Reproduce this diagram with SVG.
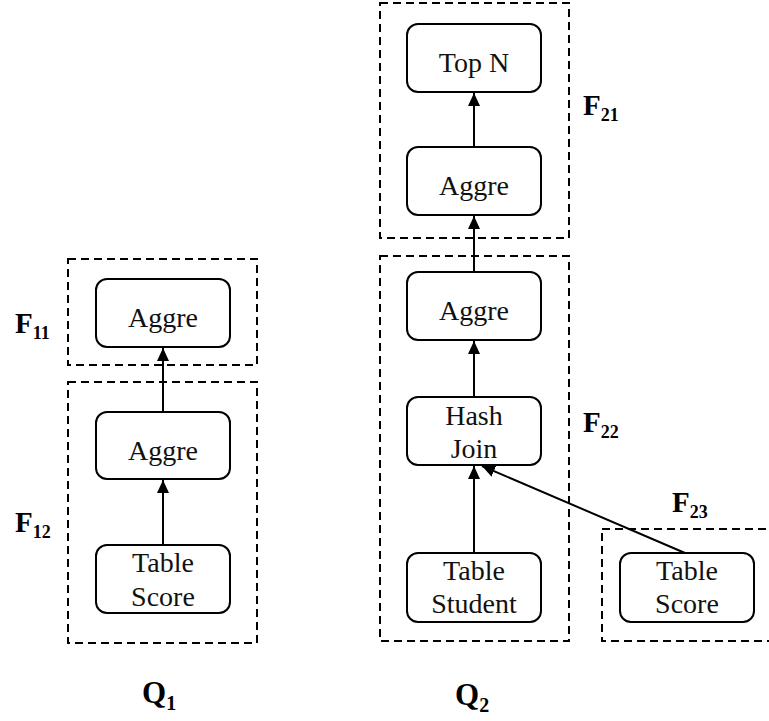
<svg xmlns="http://www.w3.org/2000/svg" width="769" height="721" viewBox="0 0 769 721" font-family="'Liberation Serif', 'Times New Roman', serif">
  <style>
    .frag { fill: none; stroke: #000; stroke-width: 2; stroke-dasharray: 8 5; }
    .op rect { fill: #fff; stroke: #000; stroke-width: 2; }
    .op text { font-family: 'Liberation Serif', 'Times New Roman', serif; font-size: 28px; fill: #111; text-anchor: middle; }
    .edge { stroke: #000; stroke-width: 2; fill: none; marker-end: url(#tip); }
    .lbl { font-family: 'Liberation Serif', 'Times New Roman', serif; font-weight: bold; font-size: 29px; fill: #000; }
    .lbl .sub { font-size: 18px; }
    .q { font-size: 31px; }
    .q .sub { font-size: 20px; }
  </style>
  <defs>
    <marker id="tip" markerUnits="userSpaceOnUse" markerWidth="14" markerHeight="14" viewBox="0 0 14 14" refX="13" refY="7" orient="auto">
      <path d="M0,1 L13,7 L0,13 Z" fill="#000"/>
    </marker>
  </defs>

  <!-- fragment frames -->
  <g id="fragments">
    <rect id="frame-F11" class="frag" x="68" y="259" width="189" height="106"/>
    <rect id="frame-F12" class="frag" x="68" y="382" width="189" height="261"/>
    <rect id="frame-F21" class="frag" x="380" y="3" width="189" height="235"/>
    <rect id="frame-F22" class="frag" x="380" y="256" width="189" height="385"/>
    <rect id="frame-F23" class="frag" x="602" y="529" width="180" height="112"/>
  </g>

  <!-- connectors -->
  <g id="connectors">
    <line class="edge" x1="163" y1="545" x2="163" y2="480"/>
    <line class="edge" x1="163" y1="412" x2="163" y2="348"/>
    <line class="edge" x1="474" y1="147" x2="474" y2="93"/>
    <line class="edge" x1="474" y1="272" x2="474" y2="216"/>
    <line class="edge" x1="474" y1="397" x2="474" y2="341"/>
    <line class="edge" x1="474" y1="553" x2="474" y2="466"/>
    <line class="edge" x1="685" y1="553" x2="482" y2="466"/>
  </g>

  <!-- Q1 operators -->
  <g id="q1-aggre-top" class="op">
    <rect x="96" y="279" width="134" height="68" rx="11"/>
    <text x="163" y="327">Aggre</text>
  </g>
  <g id="q1-aggre" class="op">
    <rect x="96" y="412" width="134" height="67" rx="11"/>
    <text x="163" y="460">Aggre</text>
  </g>
  <g id="q1-table-score" class="op">
    <rect x="96" y="545" width="134" height="68" rx="11"/>
    <text x="163" y="572">Table</text>
    <text x="163" y="606">Score</text>
  </g>

  <!-- Q2 operators -->
  <g id="q2-topn" class="op">
    <rect x="407" y="24" width="134" height="68" rx="11"/>
    <text x="474" y="72">Top N</text>
  </g>
  <g id="q2-aggre-top" class="op">
    <rect x="407" y="147" width="134" height="68" rx="11"/>
    <text x="474" y="195">Aggre</text>
  </g>
  <g id="q2-aggre" class="op">
    <rect x="407" y="272" width="134" height="68" rx="11"/>
    <text x="474" y="320">Aggre</text>
  </g>
  <g id="q2-hash-join" class="op">
    <rect x="407" y="397" width="134" height="68" rx="11"/>
    <text x="474" y="425">Hash</text>
    <text x="474" y="458">Join</text>
  </g>
  <g id="q2-table-student" class="op">
    <rect x="407" y="553" width="134" height="69" rx="11"/>
    <text x="474" y="580">Table</text>
    <text x="474" y="613">Student</text>
  </g>
  <g id="q2-table-score" class="op">
    <rect x="620" y="553" width="134" height="69" rx="11"/>
    <text x="687" y="580">Table</text>
    <text x="687" y="613">Score</text>
  </g>

  <!-- fragment and query labels -->
  <g id="labels">
    <text class="lbl" x="15" y="333">F<tspan class="sub" dy="6">11</tspan></text>
    <text class="lbl" x="15" y="532">F<tspan class="sub" dy="6">12</tspan></text>
    <text class="lbl" x="583" y="115">F<tspan class="sub" dy="6">21</tspan></text>
    <text class="lbl" x="583" y="432">F<tspan class="sub" dy="6">22</tspan></text>
    <text class="lbl" x="672" y="512">F<tspan class="sub" dy="6">23</tspan></text>
    <text class="lbl q" x="142" y="703">Q<tspan class="sub" dy="7">1</tspan></text>
    <text class="lbl q" x="455" y="705">Q<tspan class="sub" dy="7">2</tspan></text>
  </g>
</svg>
